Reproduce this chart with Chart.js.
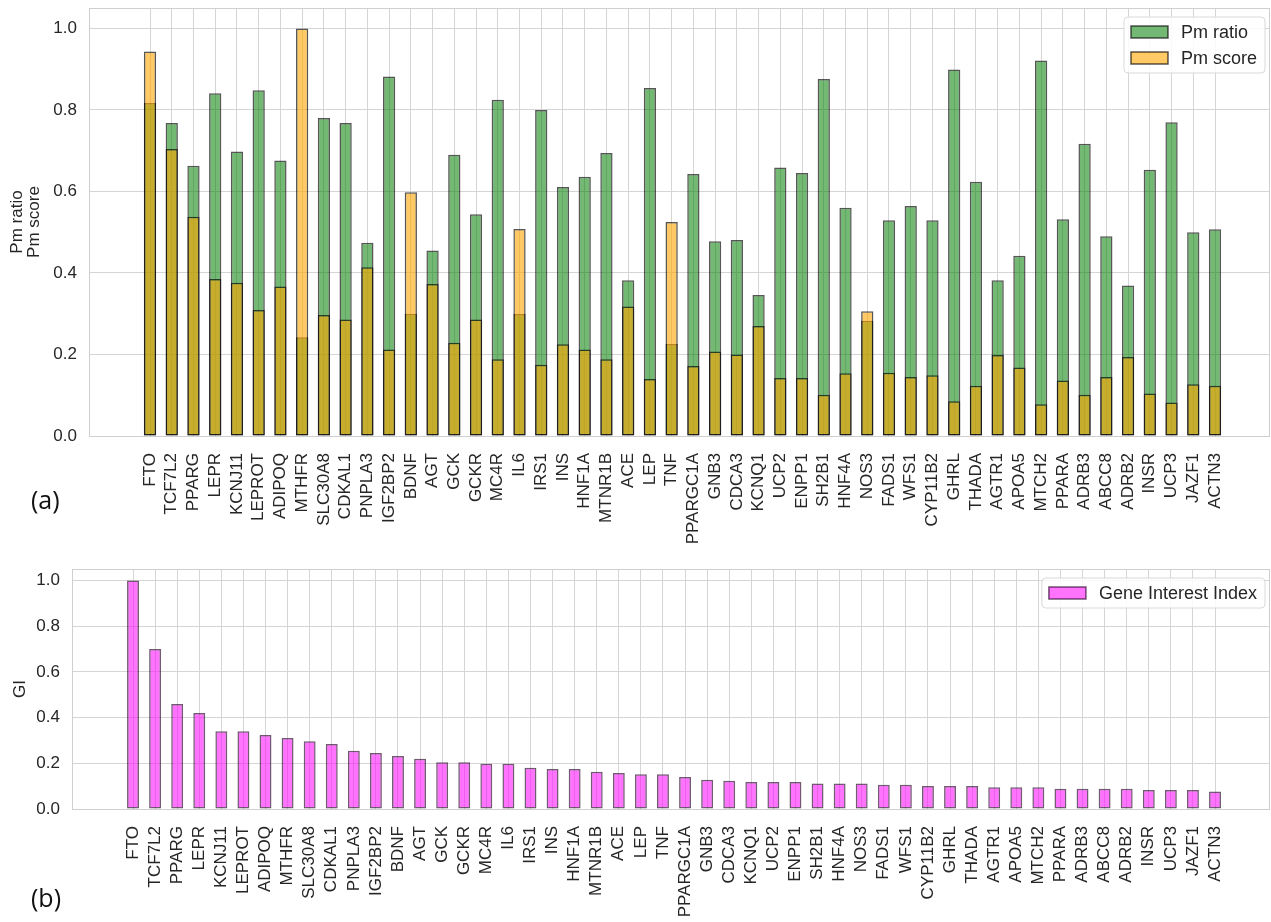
<!DOCTYPE html>
<html>
<head>
<meta charset="utf-8">
<title>Pm ratio, Pm score and Gene Interest Index</title>
<script src="https://cdn.jsdelivr.net/npm/chart.js@4.4.1/dist/chart.umd.min.js"></script>
<style>
  html, body { margin: 0; padding: 0; background: #ffffff; }
  #wrap { position: relative; width: 1271px; height: 922px; overflow: hidden; }
  canvas { position: absolute; left: 0; }
  #chartTop { top: 0; }
  #chartBottom { top: 550px; }
  .panel { position: absolute; font-family: "Open Sans", "Liberation Sans", sans-serif; font-size: 25px; line-height: 1; color: #111; }
</style>
</head>
<body>
<div id="wrap">
  <canvas id="chartTop" width="1271" height="550"></canvas>
  <canvas id="chartBottom" width="1271" height="372"></canvas>
  <div class="panel" style="left:31px; top:487px;">(a)</div>
  <div class="panel" style="left:31px; top:885px;">(b)</div>
</div>
<script>
// Genes, in ranking order
const genes = [
  'FTO', 'TCF7L2', 'PPARG', 'LEPR', 'KCNJ11', 'LEPROT', 'ADIPOQ', 'MTHFR', 'SLC30A8', 'CDKAL1',
  'PNPLA3', 'IGF2BP2', 'BDNF', 'AGT', 'GCK', 'GCKR', 'MC4R', 'IL6', 'IRS1', 'INS',
  'HNF1A', 'MTNR1B', 'ACE', 'LEP', 'TNF', 'PPARGC1A', 'GNB3', 'CDCA3', 'KCNQ1', 'UCP2',
  'ENPP1', 'SH2B1', 'HNF4A', 'NOS3', 'FADS1', 'WFS1', 'CYP11B2', 'GHRL', 'THADA', 'AGTR1',
  'APOA5', 'MTCH2', 'PPARA', 'ADRB3', 'ABCC8', 'ADRB2', 'INSR', 'UCP3', 'JAZF1', 'ACTN3'
];

// Panel (a): Pm ratio
const pmRatio = [
  0.817, 0.768, 0.663, 0.841, 0.698, 0.848, 0.676, 0.242, 0.780, 0.768,
  0.474, 0.882, 0.300, 0.455, 0.690, 0.544, 0.825, 0.299, 0.800, 0.611,
  0.636, 0.694, 0.382, 0.854, 0.226, 0.643, 0.478, 0.481, 0.346, 0.659,
  0.645, 0.876, 0.560, 0.283, 0.529, 0.564, 0.529, 0.899, 0.624, 0.382,
  0.442, 0.921, 0.532, 0.717, 0.490, 0.369, 0.653, 0.770, 0.500, 0.507
];

// Panel (a): Pm score
const pmScore = [
  0.943, 0.704, 0.538, 0.385, 0.376, 0.309, 0.367, 1.000, 0.297, 0.286,
  0.414, 0.212, 0.598, 0.373, 0.229, 0.286, 0.188, 0.508, 0.175, 0.225,
  0.212, 0.188, 0.318, 0.140, 0.525, 0.172, 0.207, 0.200, 0.270, 0.142,
  0.142, 0.101, 0.154, 0.306, 0.155, 0.145, 0.149, 0.085, 0.123, 0.199,
  0.168, 0.078, 0.136, 0.101, 0.145, 0.194, 0.104, 0.082, 0.127, 0.123
];

// Panel (b): Gene Interest Index
const geneInterest = [
  1.000, 0.700, 0.459, 0.420, 0.340, 0.340, 0.324, 0.311, 0.296, 0.284,
  0.255, 0.245, 0.232, 0.220, 0.204, 0.204, 0.198, 0.198, 0.181, 0.175,
  0.175, 0.163, 0.157, 0.152, 0.152, 0.140, 0.128, 0.124, 0.118, 0.118,
  0.118, 0.112, 0.112, 0.112, 0.106, 0.106, 0.101, 0.101, 0.101, 0.095,
  0.095, 0.095, 0.089, 0.089, 0.089, 0.089, 0.083, 0.083, 0.083, 0.077
];

// Value-axis ticks shared by both panels
const yTicks = [0, 0.2, 0.4, 0.6, 0.8, 1.0];

const FONT = '"Liberation Sans", Arial, Helvetica, sans-serif';
const TEXT = '#262626';
const GRID = '#d5d5d5';

const toPoints = arr => arr.map((v, i) => ({ x: i, y: v }));

// Light frame round the plotting area
const framePlugin = {
  id: 'frame',
  beforeDatasetsDraw(chart) {
    const { ctx, chartArea: a } = chart;
    ctx.save();
    ctx.strokeStyle = '#cfcfcf';
    ctx.lineWidth = 1;
    ctx.strokeRect(Math.round(a.left) + 0.5, Math.round(a.top) + 0.5,
                   Math.round(a.right - a.left) - 1, Math.round(a.bottom - a.top));
    ctx.restore();
  }
};

// Legend box in the upper right corner of the plotting area
const cornerLegend = {
  id: 'cornerLegend',
  afterDraw(chart) {
    const { ctx, chartArea: a } = chart;
    const sets = chart.data.datasets;
    ctx.save();
    ctx.font = '18px ' + FONT;
    const textW = Math.max(...sets.map(d => ctx.measureText(d.label).width));
    const padL = 7, swW = 37, swH = 12, gap = 13, padR = 8, rowH = 26;
    const w = padL + swW + gap + textW + padR;
    const h = 30 + (sets.length - 1) * rowH;
    const right = a.right - 5;
    const left = right - w;
    const top = a.top + 9;
    // rounded box
    const r = 4;
    ctx.beginPath();
    ctx.moveTo(left + r, top);
    ctx.lineTo(right - r, top);
    ctx.quadraticCurveTo(right, top, right, top + r);
    ctx.lineTo(right, top + h - r);
    ctx.quadraticCurveTo(right, top + h, right - r, top + h);
    ctx.lineTo(left + r, top + h);
    ctx.quadraticCurveTo(left, top + h, left, top + h - r);
    ctx.lineTo(left, top + r);
    ctx.quadraticCurveTo(left, top, left + r, top);
    ctx.closePath();
    ctx.fillStyle = 'rgba(255,255,255,0.85)';
    ctx.fill();
    ctx.strokeStyle = '#d9d9d9';
    ctx.lineWidth = 1;
    ctx.stroke();
    sets.forEach((d, i) => {
      const cy = top + 15 + i * rowH;
      ctx.fillStyle = '#ffffff';
      ctx.fillRect(left + padL, cy - swH / 2, swW, swH);
      ctx.fillStyle = d.backgroundColor;
      ctx.fillRect(left + padL, cy - swH / 2, swW, swH);
      ctx.strokeStyle = d.borderColor;
      ctx.lineWidth = 1.5;
      ctx.strokeRect(left + padL, cy - swH / 2, swW, swH);
      ctx.fillStyle = TEXT;
      ctx.textAlign = 'left';
      ctx.textBaseline = 'middle';
      ctx.fillText(d.label, left + padL + swW + gap, cy + 1);
    });
    ctx.restore();
  }
};

function makeChart(canvasId, cfg) {
  const {
    datasets, yTitle, xMin, xMax, yAxisWidth, xAxisHeight,
    padTop, barPct, titlePad
  } = cfg;
  return new Chart(document.getElementById(canvasId), {
    type: 'bar',
    data: { datasets },
    options: {
      responsive: false,
      animation: false,
      events: [],
      layout: { padding: { top: padTop, left: 0, right: 1, bottom: 0 } },
      datasets: {
        bar: {
          grouped: false,
          categoryPercentage: 1,
          barPercentage: barPct,
          borderWidth: 1.5,
          borderSkipped: false
        }
      },
      plugins: { legend: { display: false }, tooltip: { enabled: false } },
      scales: {
        x: {
          type: 'linear',
          min: xMin,
          max: xMax,
          bounds: 'data',
          offset: false,
          grid: { color: GRID, lineWidth: 1, drawTicks: false, offset: false },
          border: { display: false },
          afterBuildTicks: s => { s.ticks = genes.map((g, i) => ({ value: i })); },
          afterFit: s => { s.height = xAxisHeight; s.paddingLeft = 0; s.paddingRight = 0; },
          ticks: {
            autoSkip: false,
            minRotation: 90,
            maxRotation: 90,
            padding: 17,
            color: TEXT,
            font: { family: FONT, size: 17 },
            callback: v => genes[v]
          }
        },
        y: {
          type: 'linear',
          min: 0,
          max: 1.05,
          bounds: 'data',
          grid: { color: GRID, lineWidth: 1, drawTicks: false },
          border: { display: false },
          afterBuildTicks: s => { s.ticks = yTicks.map(v => ({ value: v })); },
          afterFit: s => { s.width = yAxisWidth; s.paddingTop = 0; s.paddingBottom = 0; },
          ticks: {
            padding: 12,
            color: TEXT,
            font: { family: FONT, size: 17 },
            callback: v => v.toFixed(1)
          },
          title: {
            display: true,
            text: yTitle,
            color: TEXT,
            font: { family: FONT, size: 17, lineHeight: 1.0 },
            padding: { top: titlePad, bottom: 0 }
          }
        }
      }
    },
    plugins: [framePlugin, cornerLegend]
  });
}

// (a) Pm ratio with Pm score drawn over it
makeChart('chartTop', {
  datasets: [
    {
      label: 'Pm ratio',
      data: toPoints(pmRatio),
      backgroundColor: 'rgba(0,128,0,0.55)',
      borderColor: 'rgba(0,0,0,0.66)',
      order: 1
    },
    {
      label: 'Pm score',
      data: toPoints(pmScore),
      backgroundColor: 'rgba(255,165,0,0.6)',
      borderColor: 'rgba(0,0,0,0.66)',
      order: 0
    }
  ],
  yTitle: ['Pm ratio', 'Pm score'],
  xMin: -2.807,
  xMax: 51.53,
  yAxisWidth: 89,
  xAxisHeight: 114,
  padTop: 8,
  barPct: 0.565,
  titlePad: 9
});

// (b) Gene Interest Index
makeChart('chartBottom', {
  datasets: [
    {
      label: 'Gene Interest Index',
      data: toPoints(geneInterest),
      backgroundColor: 'rgba(255,0,255,0.55)',
      borderColor: 'rgba(40,0,40,0.65)'
    }
  ],
  yTitle: 'GI',
  xMin: -2.763,
  xMax: 51.49,
  yAxisWidth: 72,
  xAxisHeight: 113,
  padTop: 19,
  barPct: 0.54,
  titlePad: 12
});
</script>
</body>
</html>
